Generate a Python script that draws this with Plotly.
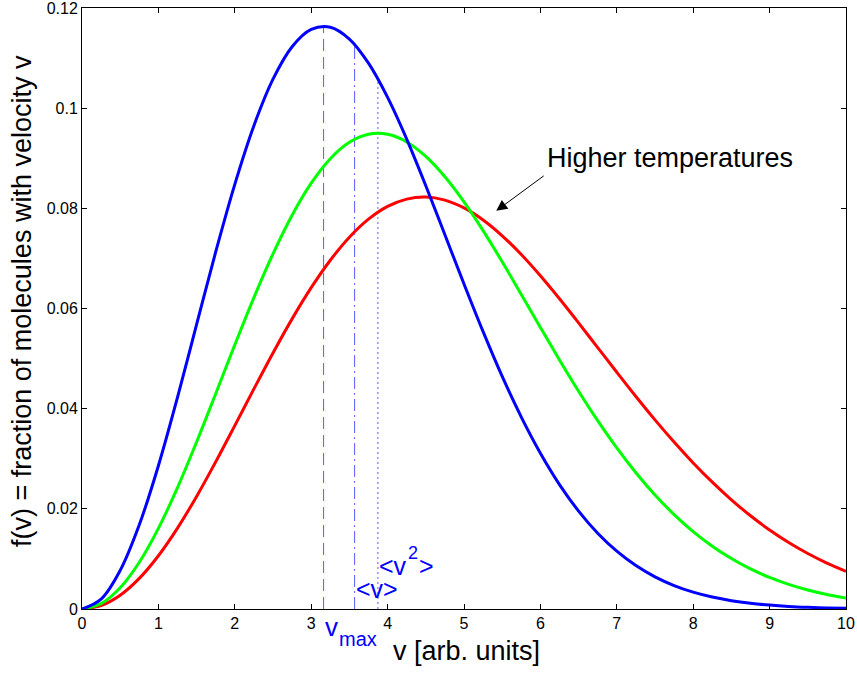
import plotly.graph_objects as go

v = [0, 0.25, 0.5, 0.75, 1, 1.25, 1.5, 1.75, 2, 2.25, 2.5, 2.75, 3, 3.25, 3.5, 3.75,
     4, 4.25, 4.5, 4.75, 5, 5.25, 5.5, 5.75, 6, 6.25, 6.5, 6.75, 7, 7.25, 7.5, 7.75,
     8, 8.25, 8.5, 8.75, 9, 9.25, 9.5, 9.75, 10]
f_low = [0, 0.001964, 0.00771, 0.016815, 0.02861, 0.042263, 0.05682, 0.071297, 0.08479,
         0.096497, 0.10579, 0.11226, 0.11571, 0.11616, 0.11380, 0.10898, 0.10215, 0.093828,
         0.08452, 0.07473, 0.06489, 0.055373, 0.04644, 0.038321, 0.03111, 0.024848, 0.01954,
         0.01513, 0.01154, 0.008668, 0.006415, 0.004679, 0.003363, 0.002382, 0.001663,
         0.001145, 0.000778, 0.00052, 0.000343, 0.000224, 0.000144]
f_mid = [0, 0.001071, 0.004232, 0.009326, 0.016103, 0.024235, 0.033335, 0.042981, 0.052736,
         0.06218, 0.070922, 0.078631, 0.085022, 0.089915, 0.09318, 0.094793, 0.094783,
         0.093255, 0.090364, 0.086288, 0.081281, 0.07554, 0.069316, 0.062801, 0.056216,
         0.049737, 0.043488, 0.037604, 0.032161, 0.027209, 0.022771, 0.018857, 0.015458,
         0.012536, 0.010072, 0.008001, 0.006297, 0.004907, 0.003786, 0.002894, 0.002191]
f_high = [0, 0.000697, 0.00276, 0.006114, 0.010635, 0.016156, 0.022479, 0.029379, 0.036615,
          0.043944, 0.051122, 0.05793, 0.06416, 0.06964, 0.074231, 0.077831, 0.080379,
          0.081846, 0.082255, 0.081639, 0.08008, 0.077672, 0.074519, 0.07077, 0.066532,
          0.061942, 0.057128, 0.052198, 0.047275, 0.042438, 0.037765, 0.033329, 0.029167,
          0.025317, 0.021798, 0.018619, 0.015778, 0.013265, 0.011071, 0.009167, 0.007533]

# characteristic speeds of the coolest curve (v_max, <v>, sqrt<v^2>) and curve height there
speed_pos = [3.162, 3.568, 3.873]
speed_top = [0.1165, 0.1127, 0.1058]
speed_dash = ["12px,6px", "12px,4px,2px,4px", "2px,3px"]

xticks = [0, 1, 2, 3, 4, 5, 6, 7, 8, 9, 10]
yticks = [0, 0.02, 0.04, 0.06, 0.08, 0.1, 0.12]
ytick_text = ["0", "0.02", "0.04", "0.06", "0.08", "0.1", "0.12"]

FONT = "Liberation Sans, Arial, Helvetica, sans-serif"
BLUE = "#0000ff"

fig = go.Figure()
for vx, top, d in zip(speed_pos, speed_top, speed_dash):
    fig.add_trace(go.Scatter(x=[vx, vx], y=[0, top], mode="lines",
                             line=dict(color="rgba(50,50,255,0.8)", width=1, dash=d),
                             showlegend=False, hoverinfo="skip"))

for ys, col in [(f_high, "#ff0000"), (f_mid, "#00ff00"), (f_low, "#0000ff")]:
    fig.add_trace(go.Scatter(x=v, y=ys, mode="lines",
                             line=dict(color=col, width=3, shape="spline", smoothing=1.0),
                             showlegend=False))

def txt(text, x, y, size, color=BLUE, xanchor="left", yanchor="middle", xs=0, ys=0,
        xref="x", yref="y", angle=0):
    fig.add_annotation(x=x, y=y, xref=xref, yref=yref, xanchor=xanchor, yanchor=yanchor,
                       xshift=xs, yshift=ys, text=text, showarrow=False, textangle=angle,
                       borderpad=0, font=dict(family=FONT, size=size, color=color))

# v_max label under the axis
txt("v", speed_pos[0], 0, 26, xs=0, ys=-18)
txt("max", speed_pos[0], 0, 20, xs=14, ys=-30)
# <v>
txt("&lt;v&gt;", speed_pos[1], 0, 25, xs=0, ys=20)
# <v^2>
txt("&lt;v", speed_pos[2], 0, 25, xs=0, ys=43)
txt("2", speed_pos[2], 0, 18, xs=29, ys=56)
txt("&gt;", speed_pos[2], 0, 25, xs=40, ys=43)

# arrow and label
fig.add_annotation(x=5.422, y=0.0795, xref="x", yref="y", ax=6.063, ay=0.0867,
                   axref="x", ayref="y", text="", showarrow=True,
                   arrowhead=2, arrowsize=2.2, arrowwidth=1, arrowcolor="black")
txt("Higher temperatures", 6.077, 0.0900, 27, color="black")

# axis titles
txt("v [arb. units]", 0.503, 0, 27, color="black", xanchor="center", xref="paper",
    yref="paper", ys=-42)
txt("f(v) = fraction of molecules with velocity v", 0, 0.5125, 27, color="black",
    xanchor="center", xref="paper", yref="paper", xs=-60, angle=-90)

axis_common = dict(showgrid=False, zeroline=False, showline=True, linecolor="black",
                   linewidth=1, mirror="ticks", ticks="inside", ticklen=5,
                   tickcolor="black", automargin=False, ticklabeloverflow="allow",
                   tickfont=dict(family=FONT, size=16, color="black"))

fig.update_xaxes(range=[0, 10], tickvals=xticks, **axis_common)
fig.update_yaxes(range=[0, 0.12], tickvals=yticks, ticktext=ytick_text, **axis_common)

fig.update_layout(width=857, height=673, plot_bgcolor="white", paper_bgcolor="white",
                  margin=dict(l=82, r=11, t=8, b=64), showlegend=False)

fig.write_html("out.html", config={"displayModeBar": False},
               post_script="document.body.style.margin='0';document.body.style.overflow='hidden';")
